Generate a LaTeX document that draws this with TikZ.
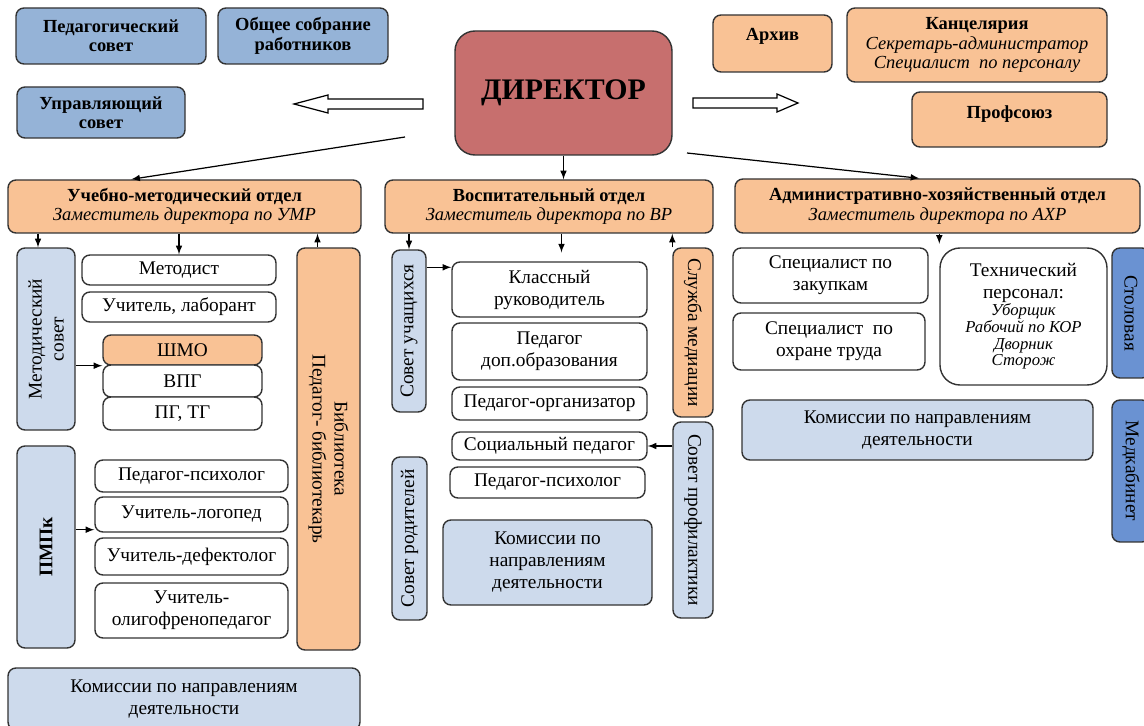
\documentclass[tikz,border=0pt]{standalone}
\usepackage{fontspec}
\setmainfont{Liberation Serif}
\usepackage{xcolor}
\definecolor{sovet}{HTML}{95B3D7}
\definecolor{svetlo}{HTML}{CDDAEC}
\definecolor{persik}{HTML}{F9C295}
\definecolor{direktor}{HTML}{C76F6E}
\definecolor{sinij}{HTML}{6A92D2}
\definecolor{ramka}{HTML}{333333}
\tikzset{
  box/.style={draw=ramka, line width=0.8pt, rounded corners=0.16cm, align=center,
    inner sep=1pt, font=\fontsize{11}{12.5}\selectfont},
  boxsize/.style 2 args={minimum width=#1*0.02cm, minimum height=#2*0.02cm},
  sovetbox/.style={box, fill=sovet, font=\fontsize{10.5}{11}\selectfont\bfseries},
  svetlobox/.style={box, fill=svetlo},
  persikbox/.style={box, fill=persik, font=\fontsize{10.5}{11}\selectfont},
  belbox/.style={box, fill=white},
  sinbox/.style={box, fill=sinij}
}

\begin{document}
\begin{tikzpicture}[x=0.02cm, y=-0.02cm, >=latex, line width=0.7pt]
\useasboundingbox (0,0) rectangle (1144,726);

% Верхний ряд
\node[sovetbox, boxsize={190}{56}] (pedsovet) at (111,36) {Педагогический\\совет};
\node[sovetbox, boxsize={170}{56}] (sobranie) at (303,36) {Общее собрание\\работников};
\node[sovetbox, boxsize={168}{51}] (upravl) at (101,112.5) {Управляющий\\совет};

\node[box, fill=direktor, rounded corners=0.4cm, boxsize={217}{124},
  font=\fontsize{17}{20}\selectfont\bfseries] (director) at (563.5,93) {ДИРЕКТОР};

\node[persikbox, boxsize={119}{57}, text depth=10pt] (arhiv) at (772.5,43.5) {\textbf{Архив}};
\node[persikbox, boxsize={260}{74}] (kanc) at (977,45)
  {\textbf{Канцелярия}\\\textit{Секретарь-администратор}\\\textit{Специалист~ по персоналу}};
\node[persikbox, boxsize={195}{55}, text depth=8pt] (profsoyuz) at (1009.5,119.5) {\textbf{Профсоюз}};

\draw[fill=white] (423,99) -- (328,99) -- (328,95) -- (294,104) -- (328,113) -- (328,109) -- (423,109) -- cycle;
\draw[fill=white] (693,98) -- (777,98) -- (777,94) -- (798,103) -- (777,112) -- (777,108) -- (693,108) -- cycle;

% Отделы
\node[persikbox, boxsize={353}{53}] (umo) at (184.5,206.5)
  {\textbf{Учебно-методический отдел}\\\textit{Заместитель директора по УМР}};
\node[persikbox, boxsize={328}{53}] (vo) at (549,206.5)
  {\textbf{Воспитательный отдел}\\\textit{Заместитель директора по ВР}};
\node[persikbox, boxsize={405}{54}] (axo) at (937.5,206)
  {\textbf{Административно-хозяйственный отдел}\\\textit{Заместитель директора по АХР}};

\coordinate (dl) at (405,137);
\coordinate (dr) at (687,153);
\draw[->] (dl) -- ([shift={(124,0)}]umo.north west);
\draw[->] (director.south) -- (director.south |- vo.north);
\draw[->] (dr) -- ([shift={(185,0)}]axo.north west);

% Учебно-методический отдел
\node[svetlobox, rotate=90, boxsize={182}{58}] (metsovet) at (46,339) {Методический\\совет};
\node[belbox, boxsize={194}{30}] (metodist) at (179,270) {Методист};
\node[belbox, boxsize={194}{30}] (uchlab) at (179,307) {Учитель, лаборант};
\node[persikbox, boxsize={159}{30}, font=\fontsize{11}{12.5}\selectfont] (shmo) at (182.5,350) {ШМО};
\node[belbox, boxsize={159}{32}] (vpg) at (182.5,381) {ВПГ};
\node[belbox, boxsize={159}{33}] (pgtg) at (182.5,413.5) {ПГ, ТГ};

\node[svetlobox, rotate=90, boxsize={202}{58}, font=\fontsize{11}{13}\selectfont\bfseries] (pmpk) at (46,547) {ПМПк};
\node[belbox, boxsize={193}{32}] (pedpsy1) at (191.5,476) {Педагог-психолог};
\node[belbox, boxsize={193}{35}] (logoped) at (191.5,514.5) {Учитель-логопед};
\node[belbox, boxsize={193}{37}] (defekt) at (191.5,556.5) {Учитель-дефектолог};
\node[belbox, boxsize={193}{55}] (oligo) at (191.5,610.5) {Учитель-\\олигофренопедагог};

\node[persikbox, rotate=-90, boxsize={402}{63}, font=\fontsize{11}{12.5}\selectfont] (bib) at (328.5,449)
  {Библиотека\\Педагог- библиотекарь};
\node[svetlobox, boxsize={352}{62}] (kom1) at (184,699) {Комиссии по направлениям\\деятельности};

\path ([shift={(-8,0)}]metsovet.east) coordinate (ms);
\draw[->] (ms |- umo.south) -- (ms);
\draw[->] (umo.south -| metodist.north) -- (metodist.north);
\path ([shift={(-11,0)}]bib.west) coordinate (bb);
\draw[->] (bb) -- (bb |- umo.south);
\draw[->] (metsovet.south |- shmo.south west) -- (shmo.south west);
\path ([shift={(0,-3)}]logoped.south west) coordinate (lg);
\draw[->] (pmpk.south |- lg) -- (lg);

% Воспитательный отдел
\node[svetlobox, rotate=90, boxsize={162}{34}] (sovuch) at (409,331) {Совет учащихся};
\node[belbox, boxsize={195}{55}] (klass) at (549.5,289.5) {Классный\\руководитель};
\node[belbox, boxsize={195}{57}] (pedop) at (549.5,351.5) {Педагог\\доп.образования};
\node[belbox, boxsize={195}{33}] (pedorg) at (549.5,403.5) {Педагог-организатор};
\node[belbox, boxsize={195}{28}] (socped) at (549.5,446) {Социальный педагог};
\node[belbox, boxsize={195}{31}] (pedpsy2) at (547.5,482.5) {Педагог-психолог};
\node[persikbox, rotate=-90, boxsize={169}{40}, font=\fontsize{11}{12.5}\selectfont] (mediac) at (693,332.5) {Служба медиации};
\node[svetlobox, rotate=-90, boxsize={196}{40}] (sovprof) at (693,520) {Совет профилактики};
\node[svetlobox, rotate=90, boxsize={163}{35}] (sovrod) at (409.5,538.5) {Совет родителей};
\node[svetlobox, boxsize={209}{85}] (kom2) at (547.5,562.5) {Комиссии по\\направлениям\\деятельности};

\draw[->] (vo.south -| sovuch.east) -- (sovuch.east);
\path ([shift={(12,0)}]klass.north) coordinate (kl);
\draw[->, shorten >=5pt] (kl |- vo.south) -- (kl);
\draw[->] (mediac.south west) -- (mediac.south west |- vo.south);
\path ([shift={(0,6)}]klass.north west) coordinate (kl2);
\draw[->] (sovuch.south |- kl2) -- (kl2);
\draw[->] (sovprof.south |- socped.east) -- (socped.east);

% Административно-хозяйственный отдел
\node[belbox, boxsize={195}{55}] (zakup) at (830.5,275.5) {Специалист по\\закупкам};
\node[belbox, boxsize={192}{57}] (ohrana) at (829,341.5) {Специалист~ по\\охране труда};
\node[belbox, rounded corners=0.4cm, boxsize={167}{137}] (tech) at (1023.5,316.5)
  {Технический\\персонал:\\[-3pt]\textit{\fontsize{9.5}{10}\selectfont Уборщик}\\[-3pt]
   \textit{\fontsize{9.5}{10}\selectfont Рабочий по КОР}\\[-3pt]\textit{\fontsize{9.5}{10}\selectfont Дворник}\\[-3pt]
   \textit{\fontsize{9.5}{10}\selectfont Сторож}};
\node[sinbox, rotate=-90, boxsize={130}{38}] (stol) at (1131,313) {Столовая};
\node[sinbox, rotate=-90, boxsize={142}{38}] (medk) at (1131,471) {Медкабинет};
\node[svetlobox, boxsize={351}{60}] (kom3) at (917.5,430) {Комиссии по направлениям\\деятельности};

\draw[->, shorten >=2pt] (axo.south -| tech.north west) -- (tech.north west);

\end{tikzpicture}
\end{document}
